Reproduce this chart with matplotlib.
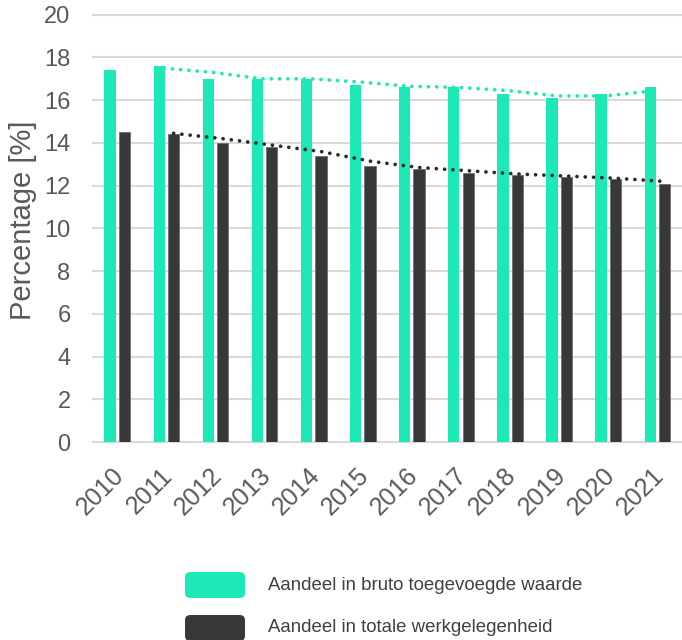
import matplotlib
matplotlib.use("Agg")
import matplotlib.pyplot as plt
import matplotlib.transforms as mtransforms
import numpy as np
from matplotlib.patches import FancyBboxPatch

plt.rcParams["font.family"] = ["Liberation Sans", "DejaVu Sans"]

years = ["2010", "2011", "2012", "2013", "2014", "2015",
         "2016", "2017", "2018", "2019", "2020", "2021"]
bruto_toegevoegd = [17.4, 17.6, 17.0, 17.0, 17.0, 16.7,
                    16.6, 16.6, 16.3, 16.1, 16.3, 16.6]
werkgelegenheid = [14.5, 14.4, 14.0, 13.8, 13.4, 12.9,
                   12.8, 12.6, 12.5, 12.4, 12.3, 12.1]
legend_labels = ["Aandeel in bruto toegevoegde waarde",
                 "Aandeel in totale werkgelegenheid"]

GREEN = "#1de9b6"
DARK = "#383838"
TEXT = "#595959"
GRID = "#d9d9d9"


def moving_avg(vals, n=2):
    v = np.asarray(vals, dtype=float)
    return np.convolve(v, np.ones(n) / n, mode="valid")


fig = plt.figure(figsize=(6.82, 6.4), dpi=100)
ax = fig.add_axes([0.136, 0.309, 0.864, 0.668])

x = np.arange(len(years))
w = 0.23
off = 0.147
ax.bar(x - off, bruto_toegevoegd, w, color=GREEN, zorder=3)
ax.bar(x + off, werkgelegenheid, w, color=DARK, edgecolor="#6e6e6e",
       linewidth=0.6, zorder=3)

# two-period moving-average trendlines, round dots
dots = (0, (0.01, 2.2))
ax.plot(x[1:] - off + 0.1, moving_avg(bruto_toegevoegd), color=GREEN,
        linestyle=dots, linewidth=2.7, dash_capstyle="round", zorder=4)
ax.plot(x[1:] + off, moving_avg(werkgelegenheid), color="#2b2b2b",
        linestyle=dots, linewidth=2.7, dash_capstyle="round", zorder=4)

ax.set_xlim(-0.5, len(years) - 0.5)
ax.set_ylim(0, 20)
ax.set_yticks(np.arange(0, 21, 2))
ax.yaxis.grid(True, color=GRID, linewidth=1.5, zorder=0)
ax.set_axisbelow(True)
for s in ax.spines.values():
    s.set_visible(False)
for gl in ax.get_ygridlines():
    gl.set_clip_on(False)

ax.tick_params(axis="y", length=0, pad=16, labelsize=17, labelcolor=TEXT)
ax.tick_params(axis="x", length=0, pad=15, labelsize=18, labelcolor=TEXT)
ax.set_xticks(x)
ax.set_xticklabels(years, rotation=45, ha="right", rotation_mode="anchor")
shift = mtransforms.ScaledTranslation(-6 / 100, 0, fig.dpi_scale_trans)
for lbl in ax.get_xticklabels():
    lbl.set_transform(lbl.get_transform() + shift)
ax.set_ylabel("Percentage [%]", fontsize=21, color=TEXT, va="center")
ax.yaxis.set_label_coords(-0.118, 0.52)

# legend drawn in figure coordinates below the chart
for i, (lab, col) in enumerate(zip(legend_labels, [GREEN, DARK])):
    yc = 1 - (585 + i * 43) / 640
    box = FancyBboxPatch((185 / 682, yc - 13 / 640), 60 / 682, 26 / 640,
                         boxstyle="round,pad=0,rounding_size=0.008",
                         transform=fig.transFigure, facecolor=col,
                         edgecolor="none")
    fig.patches.append(box)
    fig.text(268 / 682, yc, lab, fontsize=13.4, color="#404040",
             va="center", ha="left")

fig.savefig("out.png", dpi=100, facecolor="white")
